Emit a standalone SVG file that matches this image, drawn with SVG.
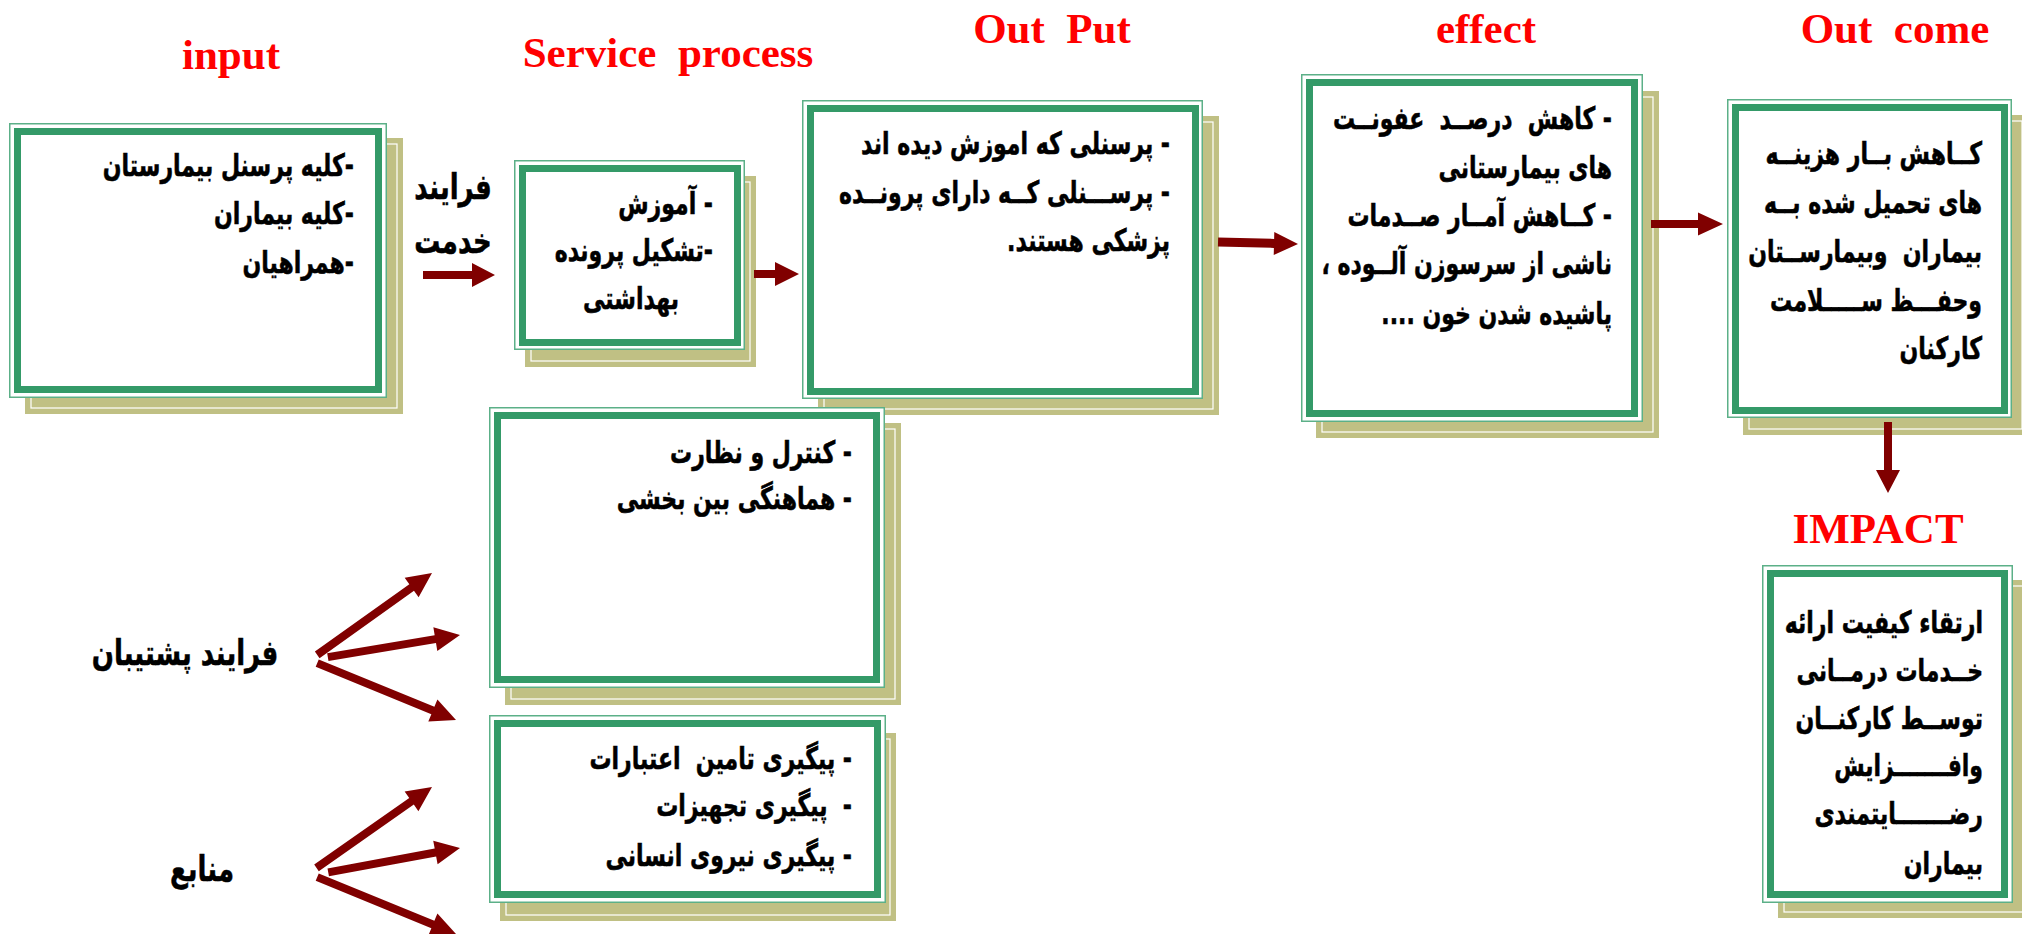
<svg xmlns="http://www.w3.org/2000/svg" width="2022" height="934" viewBox="0 0 2022 934">
<style>
.sh{fill:#c0c084}
.shl{fill:none;stroke:#fff;stroke-width:1.2}
.ol{fill:#fff;stroke:#5cb088;stroke-width:1.5}
.tb{fill:none;stroke:#349a68;stroke-width:7}
.ttl{font-family:"Liberation Serif",serif;font-weight:bold;font-size:43px;fill:#ff0000;text-anchor:middle;white-space:pre}
.fa{font-family:"DejaVu Sans",sans-serif;font-weight:bold;font-size:22px;fill:#000;stroke:#000;stroke-width:0.4;direction:rtl;unicode-bidi:embed;text-anchor:start;white-space:pre}
.fac{font-family:"DejaVu Sans",sans-serif;font-weight:bold;font-size:22px;fill:#000;stroke:#000;stroke-width:0.4;direction:rtl;unicode-bidi:embed;text-anchor:middle;white-space:pre}
.lbl{font-family:"DejaVu Sans",sans-serif;font-weight:bold;font-size:26px;fill:#000;stroke:#000;stroke-width:0.4;direction:rtl;unicode-bidi:embed;text-anchor:middle}
.arr{fill:#800000}
</style>
<rect width="2022" height="934" fill="#fff"/>

<text class="ttl" x="231" y="69">input</text>
<text class="ttl" x="668" y="67">Service  process</text>
<text class="ttl" x="1052" y="43">Out  Put</text>
<text class="ttl" x="1486" y="43">effect</text>
<text class="ttl" x="1895" y="43">Out  come</text>
<text class="ttl" x="1878" y="543">IMPACT</text>

<g id="input">
<rect class="sh" x="25" y="138" width="378" height="276"/>
<rect class="shl" x="31" y="144" width="366" height="264"/>
<rect class="ol" x="9.75" y="123.75" width="376.5" height="273.5"/>
<rect class="tb" x="17.5" y="131.5" width="361" height="258"/>
<text class="fa" transform="translate(354,176) scale(1,1.4)">-کلیه پرسنل بیمارستان</text>
<text class="fa" transform="translate(354,224) scale(1,1.4)">-کلیه بیماران</text>
<text class="fa" transform="translate(354,273) scale(1,1.4)">-همراهیان</text>
</g>

<g id="service-label">
<text class="lbl" transform="translate(453,199) scale(1,1.35)">فرایند</text>
<text class="lbl" transform="translate(453,253) scale(1,1.35)">خدمت</text>
</g>

<g id="service">
<rect class="sh" x="525" y="176" width="231" height="191"/>
<rect class="shl" x="531" y="182" width="219" height="179"/>
<rect class="ol" x="514.75" y="160.75" width="229.5" height="188.5"/>
<rect class="tb" x="522.5" y="168.5" width="215" height="174"/>
<text class="fa" transform="translate(713,214) scale(1,1.4)">- آموزش</text>
<text class="fa" transform="translate(713,261) scale(1,1.4)">-تشکیل پرونده</text>
<text class="fac" transform="translate(631,309) scale(1,1.4)">بهداشتی</text>
</g>

<g id="output">
<rect class="sh" x="818" y="116" width="401" height="299"/>
<rect class="shl" x="824" y="122" width="389" height="287"/>
<rect class="ol" x="802.75" y="100.75" width="399.5" height="297.5"/>
<rect class="tb" x="810.5" y="108.5" width="385" height="283"/>
<text class="fa" transform="translate(1170,154) scale(1,1.4)">- پرسنلی که اموزش دیده اند</text>
<text class="fa" transform="translate(1170,203) scale(1,1.4)">- پرســـنلی کــه دارای پرونــده</text>
<text class="fa" transform="translate(1170,251) scale(1,1.4)">پزشکی هستند.</text>
</g>

<g id="effect">
<rect class="sh" x="1316" y="91" width="343" height="347"/>
<rect class="shl" x="1322" y="97" width="331" height="335"/>
<rect class="ol" x="1301.75" y="74.75" width="340.5" height="346.5"/>
<rect class="tb" x="1309.5" y="82.5" width="325" height="331"/>
<text class="fa" transform="translate(1612,129) scale(1,1.4)">- کاهش  درصــد  عفونــت</text>
<text class="fa" transform="translate(1612,178) scale(1,1.4)">های بیمارستانی</text>
<text class="fa" transform="translate(1612,226) scale(1,1.4)">- کــاهش آمــار صــدمات</text>
<text class="fa" transform="translate(1612,274) scale(1,1.4)">ناشی از سرسوزن آلــوده ،</text>
<text class="fa" transform="translate(1612,324) scale(1,1.4)">پاشیده شدن خون ....</text>
</g>

<g id="outcome">
<rect class="sh" x="1743" y="115" width="285" height="320"/>
<rect class="shl" x="1749" y="121" width="273" height="308"/>
<rect class="ol" x="1727.75" y="99.75" width="283.5" height="317.5"/>
<rect class="tb" x="1735.5" y="107.5" width="269" height="303"/>
<text class="fa" transform="translate(1982,164) scale(1,1.4)">کــاهش بــار هزینــه</text>
<text class="fa" transform="translate(1982,213) scale(1,1.4)">های تحمیل شده بــه</text>
<text class="fa" transform="translate(1982,262) scale(1,1.4)">بیماران  وبیمارســتان</text>
<text class="fa" transform="translate(1982,311) scale(1,1.4)">وحفـــظ ســـــلامت</text>
<text class="fa" transform="translate(1982,359) scale(1,1.4)">کارکنان</text>
</g>

<g id="support">
<rect class="sh" x="505" y="423" width="396" height="282"/>
<rect class="shl" x="511" y="429" width="384" height="270"/>
<rect class="ol" x="489.75" y="407.75" width="394.5" height="279.5"/>
<rect class="tb" x="497.5" y="415.5" width="379" height="264"/>
<text class="fa" transform="translate(852,463) scale(1,1.4)">- کنترل و نظارت</text>
<text class="fa" transform="translate(852,509) scale(1,1.4)">- هماهنگی بین بخشی</text>
</g>

<g id="resources">
<rect class="sh" x="500" y="733" width="396" height="188"/>
<rect class="shl" x="506" y="739" width="384" height="176"/>
<rect class="ol" x="489.75" y="715.75" width="395.5" height="186.5"/>
<rect class="tb" x="497.5" y="723.5" width="380" height="171"/>
<text class="fa" transform="translate(852,769) scale(1,1.4)">- پیگیری تامین  اعتبارات</text>
<text class="fa" transform="translate(852,816) scale(1,1.4)">-  پیگیری تجهیزات</text>
<text class="fa" transform="translate(852,866) scale(1,1.4)">- پیگیری نیروی انسانی</text>
</g>

<g id="impact">
<rect class="sh" x="1778" y="580" width="251" height="338"/>
<rect class="shl" x="1784" y="586" width="239" height="326"/>
<rect class="ol" x="1762.75" y="565.75" width="249.5" height="336.5"/>
<rect class="tb" x="1770.5" y="573.5" width="234" height="321"/>
<text class="fa" transform="translate(1983,633) scale(1,1.4)">ارتقاء کیفیت ارائه</text>
<text class="fa" transform="translate(1983,681) scale(1,1.4)">خــدمات درمــانی</text>
<text class="fa" transform="translate(1983,729) scale(1,1.4)">توســط کارکنــان</text>
<text class="fa" transform="translate(1983,776) scale(1,1.4)">وافـــــــزایش</text>
<text class="fa" transform="translate(1983,824) scale(1,1.4)">رضـــــــایتمندی</text>
<text class="fa" transform="translate(1983,874) scale(1,1.4)">بیماران</text>
</g>

<g id="label-support">
<text class="lbl" transform="translate(185,665) scale(1,1.35)">فرایند پشتیبان</text>
</g>
<g id="label-resources">
<text class="lbl" transform="translate(202,881) scale(1,1.35)">منابع</text>
</g>

<g id="connectors">
<polygon class="arr" transform="translate(495,275)" points="-72,-4 -23,-4 -23,-12 0,0 -23,12 -23,4 -72,4"/>
<polygon class="arr" transform="translate(799,274)" points="-45,-4 -24,-4 -24,-12 0,0 -24,12 -24,4 -45,4"/>
<polygon class="arr" transform="translate(1298,244) rotate(1.4)" points="-80,-4.5 -24,-4.5 -24,-11.5 0,0 -24,11.5 -24,4.5 -80,4.5"/>
<polygon class="arr" transform="translate(1723,224)" points="-72,-4 -25,-4 -25,-11.5 0,0 -25,11.5 -25,4 -72,4"/>
<polygon class="arr" transform="translate(1888,493) rotate(90)" points="-71,-4 -23,-4 -23,-12 0,0 -23,12 -23,4 -71,4"/>
<polygon class="arr" transform="translate(432,573) rotate(-35.5)" points="-141,-4 -25,-4 -25,-12 0,0 -25,12 -25,4 -141,4"/>
<polygon class="arr" transform="translate(460,635) rotate(-9.5)" points="-134,-4 -25,-4 -25,-12 0,0 -25,12 -25,4 -134,4"/>
<polygon class="arr" transform="translate(456,720) rotate(22.3)" points="-150,-4 -25,-4 -25,-12 0,0 -25,12 -25,4 -150,4"/>
<polygon class="arr" transform="translate(432,787) rotate(-35)" points="-141,-4 -25,-4 -25,-12 0,0 -25,12 -25,4 -141,4"/>
<polygon class="arr" transform="translate(460,848) rotate(-10.5)" points="-134,-4 -25,-4 -25,-12 0,0 -25,12 -25,4 -134,4"/>
<polygon class="arr" transform="translate(456,934) rotate(22.3)" points="-150,-4 -25,-4 -25,-12 0,0 -25,12 -25,4 -150,4"/>
</g>
</svg>
